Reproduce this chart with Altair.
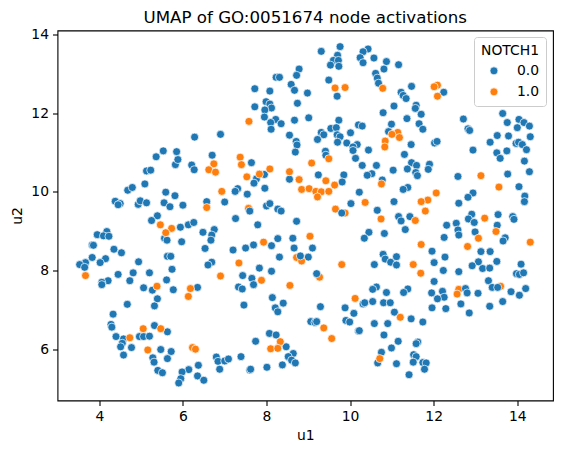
import altair as alt
import pandas as pd

blue = [
(5.13,10.53),(5.23,10.55),(5.82,10.69),(5.88,10.82),(5.85,11.02),(6.21,10.68),(6.27,10.56),(5.53,11.04),(5.36,10.89),(6.28,11.39),(6.90,11.46),(6.70,10.93),
(4.68,10.04),(4.79,10.11),(5.09,10.20),(5.59,9.99),(5.81,9.90),(4.38,9.76),(4.50,9.70),(4.45,9.67),(4.93,9.68),(4.98,9.77),(5.13,9.72),(5.55,9.72),(5.69,9.62),(6.00,9.66),(6.57,9.75),(7.00,9.74),
(5.39,9.39),(5.25,9.27),(5.94,9.10),(6.13,9.16),(6.26,9.22),(6.48,8.97),(6.75,9.04),(6.69,8.90),(6.67,8.77),(4.18,8.99),(3.95,8.91),(4.10,8.88),(4.23,8.87),(3.83,8.65),(3.86,8.64),(5.56,8.82),(5.62,8.77),(5.97,8.73),(6.53,8.56),(4.35,8.54),(4.53,8.45),(5.63,8.36),(5.71,8.36),(3.83,8.33),(4.15,8.30),(4.02,8.20),(4.94,8.22),(3.67,8.20),(3.53,8.15),(3.65,8.08),(6.69,8.21),(6.60,8.14),(5.74,8.03),(4.81,7.94),(5.20,7.94),(4.45,7.90),(4.73,7.74),(5.61,7.76),(4.21,7.74),(4.06,7.70),(4.06,7.64),(5.06,7.56),(5.27,7.50),(5.77,7.51),(6.35,7.57),(5.39,7.28),(5.32,7.10),(4.67,7.14),(4.33,6.89),(4.28,6.63),(4.30,6.56),(5.32,6.60),(5.63,6.44),(4.40,6.32),(4.58,6.26),(4.96,6.32),(5.06,6.32),(5.20,6.33),(4.55,6.15),(4.51,6.06),(4.77,6.04),(4.58,5.85),(5.47,5.99),(5.72,5.94),(5.63,5.76),(5.28,5.78),(5.31,5.67),(5.40,5.46),(5.51,5.40),(6.80,5.80),(6.84,5.69),(7.00,5.70),(6.88,5.49),(6.37,5.59),(6.14,5.48),(5.98,5.42),(6.35,5.32),(6.50,5.21),(5.95,5.25),(5.90,5.14),
(9.31,13.57),(9.76,13.69),(9.70,13.47),(9.60,13.34),(9.72,13.34),(9.53,13.22),(9.73,13.19),(8.78,13.12),(8.72,12.96),(8.23,12.91),(8.31,12.91),(8.59,12.73),(8.67,12.58),(8.98,12.51),(7.72,12.62),(8.08,12.56),(9.49,12.84),(9.69,12.43),(8.74,12.25),(7.99,12.29),(8.08,12.23),(8.12,12.13),(7.72,12.16),(7.96,12.08),(7.95,11.90),(8.22,11.84),(8.10,11.76),(8.35,11.73),(8.11,11.59),(8.67,11.82),(9.01,11.88),(8.55,11.44),(8.71,11.28),(8.73,11.19),(8.69,11.01),(9.73,11.82),(9.54,11.61),(9.67,11.63),(9.31,11.51),(9.37,11.45),(9.22,11.33),(9.69,11.45),(9.76,11.40),(9.70,11.26),(9.92,11.24),(10.01,11.50),(10.20,11.70),(10.29,11.67),(10.17,11.20),(10.07,11.14),(10.07,11.05),(10.44,11.06),(10.13,10.85),(9.41,11.03),(9.42,10.93),(7.64,10.74),(7.95,10.44),(7.76,10.33),(7.70,10.22),(7.96,10.09),(7.31,10.08),(7.25,10.01),(7.54,9.94),(8.55,10.32),(9.24,10.43),(9.85,10.43),(9.81,10.25),(10.29,10.67),(10.63,10.67),(10.52,10.46),(10.41,10.42),(10.22,9.99),(10.43,13.63),(10.31,13.56),(10.24,13.41),(10.31,13.28),(10.57,13.40),(10.61,13.01),(10.65,12.89),(10.68,12.76),
(7.60,9.51),(8.00,9.64),(8.08,9.70),(8.27,9.56),(8.35,9.51),(7.26,9.32),(7.79,9.16),(8.72,9.25),(10.02,9.70),(10.65,9.53),(10.45,8.97),(10.34,8.82),(8.27,8.81),(8.63,8.82),(8.12,8.63),(7.69,8.65),(7.50,8.57),(7.20,8.52),(8.66,8.57),(9.10,8.57),(8.31,8.34),(9.00,8.34),(7.83,8.06),(8.12,7.98),(7.43,7.87),(7.65,7.80),(7.69,7.64),(7.33,7.58),(7.42,7.53),(10.58,8.15),(8.14,7.31),(8.40,7.17),(7.46,7.12),(8.21,7.05),(8.27,6.95),(9.29,7.08),(9.88,7.05),(10.09,6.91),(9.90,6.73),(9.99,6.69),(9.06,6.70),(9.16,6.68),(9.20,6.70),(10.58,6.65),(10.20,6.46),(10.22,6.47),(8.07,6.40),(8.23,6.36),(7.74,6.20),(8.47,6.06),(8.64,5.89),(8.52,5.81),(8.60,5.72),(8.69,5.65),(8.38,5.60),(8.01,5.54),(7.39,5.81),(7.09,5.75),(7.60,5.47),(7.62,5.49),(10.31,7.15),(10.35,7.18),(10.54,7.21),(10.63,7.58),(10.54,7.52),(10.66,5.65),(10.75,5.92),
(10.87,13.31),(10.81,13.12),(11.16,13.23),(11.47,12.68),(12.24,12.53),(11.22,12.53),(11.27,12.45),(11.34,12.37),(11.05,12.18),(11.58,12.20),(11.56,12.12),(11.70,11.97),(10.79,12.01),(11.36,11.86),(11.65,11.73),(11.74,11.59),(10.99,11.72),(10.92,11.53),(12.71,11.85),(12.82,11.60),(12.86,11.56),(13.65,11.99),(13.76,11.76),(14.04,11.84),(14.16,11.76),(14.29,11.67),(14.00,11.63),(13.79,11.42),(13.52,11.43),(14.31,11.40),(13.35,11.26),(13.97,11.23),(14.03,11.26),(14.12,11.20),(14.22,11.07),(13.51,10.99),(13.75,11.04),(13.59,10.85),(12.94,11.06),(12.02,11.24),(12.08,11.28),(11.46,11.20),(11.30,10.95),(14.17,10.78),(14.29,10.51),(13.77,10.45),(11.47,10.74),(11.59,10.67),(11.90,10.70),(11.87,10.57),(11.37,10.58),(11.57,10.49),(11.61,10.41),(11.03,10.55),(12.58,10.39),(10.77,10.30),(11.38,10.11),(11.27,10.06),(14.04,10.13),(14.18,9.89),(14.17,9.75),(12.94,9.97),(12.82,9.86),(12.60,9.71),(11.05,9.75),
(11.16,9.37),(11.22,9.26),(11.43,9.37),(11.32,9.04),(10.82,8.94),(12.31,9.15),(12.54,9.20),(12.91,9.43),(12.83,9.31),(12.97,9.22),(13.54,9.42),(13.89,9.37),(13.92,9.30),(13.52,9.15),(12.58,9.03),(12.60,8.90),(12.25,8.84),(12.99,8.98),(13.71,8.83),(13.66,8.75),(11.96,8.49),(13.13,8.48),(13.35,8.48),(12.27,8.34),(12.01,8.20),(10.79,8.41),(10.84,8.29),(10.97,8.21),(11.11,8.35),(11.11,8.14),(13.07,8.22),(13.51,8.23),(12.92,8.12),(13.17,8.05),(13.34,8.06),(14.09,8.16),(12.23,8.00),(12.60,7.97),(13.98,7.92),(14.05,7.90),(14.15,7.94),(12.01,7.72),(13.31,7.74),(13.40,7.57),(13.85,7.46),(14.20,7.54),(14.05,7.37),(13.65,7.21),(13.34,7.09),(12.65,7.15),(12.85,6.92),(12.21,7.47),(12.25,7.32),(12.09,7.28),(11.95,7.43),(11.96,7.05),(12.29,7.03),(11.38,7.53),(11.28,7.44),(10.87,7.44),(10.80,7.18),(10.96,7.18),(11.06,6.94),(11.46,6.77),(11.74,6.69),(10.90,6.65),(10.81,6.36),(11.15,6.20),(10.99,6.03),(11.62,6.18),(11.58,6.14),(11.52,5.86),(11.58,5.81),(11.51,5.67),(11.11,5.63),(11.74,5.66),(11.82,5.65),(11.78,5.49),(11.41,5.35),(13.06,7.42),
]
orange = [
(6.74,10.71),(6.62,10.56),(6.78,10.50),(6.93,10.01),(6.57,9.60),(5.46,9.16),(5.73,9.07),(5.59,8.96),(3.67,7.87),(6.90,7.86),(5.38,7.60),(6.18,7.54),(6.13,7.34),(5.05,6.52),(5.47,6.52),(4.73,6.29),(5.16,5.98),(6.23,6.04),(6.30,6.00),
(7.58,11.79),(9.64,12.64),(9.88,12.65),(7.37,10.88),(7.40,10.69),(7.53,10.38),(7.83,10.45),(8.08,10.58),(9.08,10.73),(9.49,10.84),(8.55,10.51),(8.78,10.31),(9.42,10.28),(9.63,10.17),(8.84,10.06),(9.02,10.08),(9.18,10.01),(9.31,10.00),(9.49,10.01),(9.22,9.87),
(7.57,9.58),(9.65,9.56),(9.88,9.46),(10.36,9.73),(9.04,8.87),(7.93,8.72),(7.34,8.19),(8.72,8.33),(8.84,8.24),(9.80,8.15),(7.88,7.75),(8.56,7.62),(9.27,7.83),(10.12,7.29),(9.37,6.54),(9.56,6.27),(8.33,6.19),(8.10,6.01),(8.27,6.02),(10.71,5.76),
(12.09,12.71),(12.01,12.67),(12.09,12.43),(10.78,12.63),(11.14,11.51),(11.00,11.46),(11.18,11.38),(10.84,11.29),(10.83,11.14),(10.75,10.20),(13.13,10.41),(13.56,10.12),(12.06,9.97),(11.86,9.79),(11.70,9.75),
(10.74,9.31),(11.80,9.51),(11.56,9.27),(13.22,9.33),(13.49,8.99),(13.07,8.82),(12.81,8.61),(11.70,8.66),(14.31,8.72),(11.51,8.15),(11.69,7.93),(12.60,7.52),(12.56,7.40),(13.60,7.60),(11.20,6.81),
]
blue_over_orange = [(8.81,8.37),(12.76,7.54),(12.80,7.43),(13.53,7.57),(9.20,7.92),(9.80,9.46),(7.60,9.51)]

x_ticks = [4, 6, 8, 10, 12, 14]
y_ticks = [6, 8, 10, 12, 14]
labels = ["0.0", "1.0"]

rows = ([{"u1": a, "u2": b, "NOTCH1": "0.0"} for a, b in blue]
        + [{"u1": a, "u2": b, "NOTCH1": "1.0"} for a, b in orange]
        + [{"u1": a, "u2": b, "NOTCH1": "0.0"} for a, b in blue_over_orange])
df = pd.DataFrame(rows)

axis_common = dict(grid=False, domain=False, tickColor="black", tickWidth=1.1, tickSize=5,
                   labelFont="DejaVu Sans", labelFontSize=13.9, labelColor="black", labelPadding=4,
                   titleFont="DejaVu Sans", titleFontSize=13.9, titleFontWeight="normal", titleColor="black")

chart = (
    alt.Chart(df, title=alt.TitleParams("UMAP of GO:0051674 node activations", font="DejaVu Sans",
                                        fontSize=16.67, fontWeight="normal", color="black",
                                        anchor="middle", offset=1))
    .mark_circle(size=64, opacity=1, stroke="white", strokeWidth=0.7)
    .encode(
        x=alt.X("u1:Q", scale=alt.Scale(domain=[3.0, 14.854], nice=False, zero=False),
                axis=alt.Axis(values=x_ticks, title="u1", format="d", labelFlush=False, titlePadding=5, **axis_common)),
        y=alt.Y("u2:Q", scale=alt.Scale(domain=[4.695, 14.10], nice=False, zero=False),
                axis=alt.Axis(values=y_ticks, title="u2", format="d", labelFlush=False, titlePadding=6, **axis_common)),
        color=alt.Color("NOTCH1:N", scale=alt.Scale(domain=labels, range=["#1f77b4", "#ff7f0e"]),
                        legend=alt.Legend(orient="none", legendX=416.5, legendY=6.5, fillColor="white",
                                          strokeColor="#cccccc", cornerRadius=3, padding=7,
                                          titleFont="DejaVu Sans", titleFontSize=13.9, titleFontWeight="normal",
                                          titleColor="black", labelFont="DejaVu Sans", labelFontSize=13.9,
                                          labelColor="black", symbolSize=64, symbolOffset=6, labelOffset=16,
                                          rowPadding=6, titlePadding=6, symbolStrokeWidth=0.7)),
        order=alt.Order("idx:Q"),
    )
    .transform_window(idx="row_number()")
    .properties(width=495.5, height=370, autosize="none",
                padding={"left": 49.5, "top": 22.5, "right": 2, "bottom": 44.5})
    .configure_view(stroke="black", strokeWidth=1.1)
)
chart.save("out.html", embed_options={"renderer": "svg", "actions": False})
